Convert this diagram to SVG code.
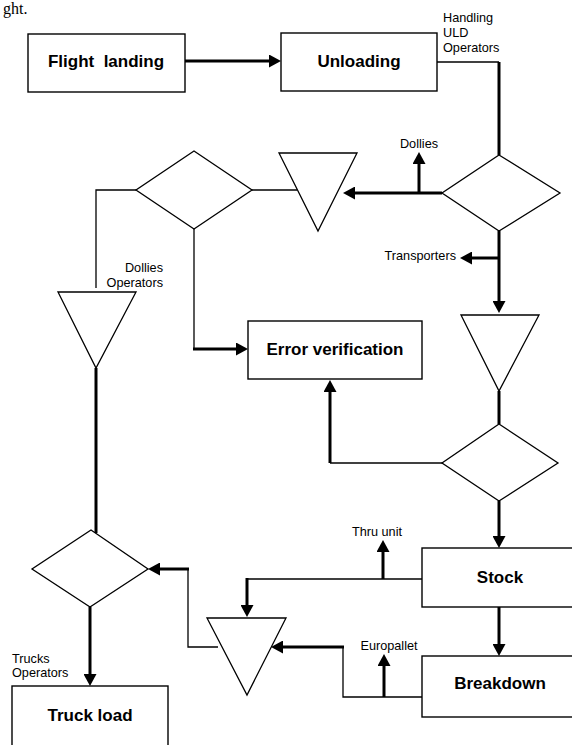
<svg xmlns="http://www.w3.org/2000/svg" width="572" height="745" viewBox="0 0 572 745">
<defs>
<style>
.box{fill:#fff;stroke:#000;stroke-width:1.4}
.shape{fill:#fff;stroke:#000;stroke-width:1.3}
.big{font-family:"Liberation Sans",Arial,sans-serif;font-weight:bold;font-size:17px;fill:#000;text-anchor:middle}
.small{font-family:"Liberation Sans",Arial,sans-serif;font-size:12.7px;fill:#000}
.thick{fill:none;stroke:#000;stroke-width:3}
.thin{fill:none;stroke:#000;stroke-width:1.3}
.arr{marker-end:url(#ah)}
</style>
<marker id="ah" markerUnits="userSpaceOnUse" markerWidth="12" markerHeight="13" refX="0" refY="6.5" orient="auto">
<path d="M0,0 L12,6.5 L0,13 z" fill="#000"/>
</marker>
</defs>
<rect width="572" height="745" fill="#fff"/>
<text x="3" y="14" font-family="Liberation Serif,serif" font-size="16" fill="#000">ght.</text>

<g id="connectors">
<path class="thick arr" d="M185,61 H269"/>
<path class="thin" d="M437,62 H499"/>
<path class="thick" d="M499,62 V155"/>
<path class="thick arr" d="M442,193 H355"/>
<path class="thick arr" d="M419,193 V164"/>
<path class="thick arr" d="M499,231 V301"/>
<path class="thick arr" d="M499,258 H472"/>
<path class="thick" d="M499,391 V424"/>
<path class="thick arr" d="M499,501 V536"/>
<path class="thin" d="M442,463 H330"/>
<path class="thick arr" d="M330,463 V392"/>
<path class="thin" d="M252,190 H297"/>
<path class="thin" d="M136,190 H96 V288"/>
<path class="thin" d="M194,229 V349"/>
<path class="thick arr" d="M193,349 H236"/>
<path class="thick" d="M96,368 V533"/>
<path class="thick arr" d="M90,607 V674"/>
<path class="thin" d="M218,647 H188 V569"/>
<path class="thick arr" d="M189,569 H160"/>
<path class="thin" d="M422,579 H247"/>
<path class="thick arr" d="M247,578 V605"/>
<path class="thick arr" d="M383,579 V552"/>
<path class="thin" d="M422,697 H343 V647"/>
<path class="thick arr" d="M344,647 H283"/>
<path class="thick arr" d="M384,697 V666"/>
<path class="thick arr" d="M499,607 V644"/>
</g>

<g id="flight-landing">
<rect class="box" x="28" y="34" width="157" height="58"/>
<text class="big" x="106" y="67" xml:space="preserve">Flight  landing</text>
</g>
<g id="unloading">
<rect class="box" x="281" y="33" width="156" height="58"/>
<text class="big" x="359" y="67">Unloading</text>
</g>
<g id="label-handling">
<text class="small" x="443" y="22">Handling</text>
<text class="small" x="443" y="37">ULD</text>
<text class="small" x="443" y="52">Operators</text>
</g>
<g id="decision-1">
<polygon class="shape" points="499,155 560,193 499,231 442,193"/>
</g>
<g id="label-dollies">
<text class="small" x="419" y="148" text-anchor="middle">Dollies</text>
</g>
<g id="store-1">
<polygon class="shape" points="279,153 357,153 318,231"/>
</g>
<g id="decision-3">
<polygon class="shape" points="194,151 252,190 194,229 136,190"/>
</g>
<g id="label-transporters">
<text class="small" x="456" y="260" text-anchor="end">Transporters</text>
</g>
<g id="store-2">
<polygon class="shape" points="461,315 539,315 499,391"/>
</g>
<g id="decision-2">
<polygon class="shape" points="499,424 558,463 499,501 442,463"/>
</g>
<g id="error-verification">
<rect class="box" x="248" y="321" width="174" height="58"/>
<text class="big" x="335" y="355">Error verification</text>
</g>
<g id="label-dollies-operators">
<text class="small" x="163" y="272" text-anchor="end">Dollies</text>
<text class="small" x="163" y="287" text-anchor="end">Operators</text>
</g>
<g id="store-3">
<polygon class="shape" points="58,292 136,292 96,368"/>
</g>
<g id="decision-4">
<polygon class="shape" points="91,530 148,569 90,607 32,569"/>
</g>
<g id="label-trucks-operators">
<text class="small" x="12" y="663">Trucks</text>
<text class="small" x="12" y="677">Operators</text>
</g>
<g id="truck-load">
<rect class="box" x="12" y="686" width="156" height="75"/>
<text class="big" x="90" y="721">Truck load</text>
</g>
<g id="store-4">
<polygon class="shape" points="207,618 286,618 247,695"/>
</g>
<g id="label-thru-unit">
<text class="small" x="377" y="536" text-anchor="middle">Thru unit</text>
</g>
<g id="stock">
<rect class="box" x="422" y="548" width="160" height="59"/>
<text class="big" x="500" y="583">Stock</text>
</g>
<g id="label-europallet">
<text class="small" x="389" y="650" text-anchor="middle">Europallet</text>
</g>
<g id="breakdown">
<rect class="box" x="422" y="656" width="160" height="61"/>
<text class="big" x="500" y="689">Breakdown</text>
</g>
</svg>
